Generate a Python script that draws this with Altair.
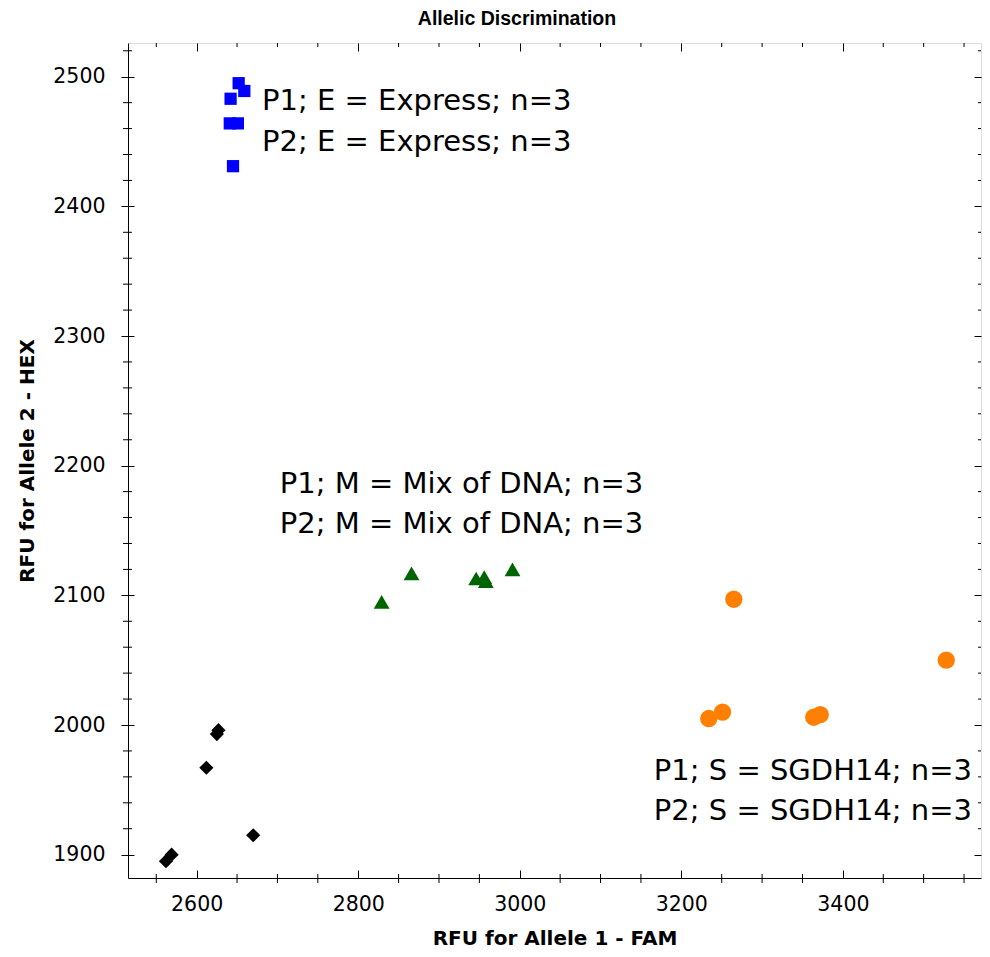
import altair as alt
import pandas as pd

# ---- data ----
express_x = [2652, 2659, 2642, 2641, 2651, 2645]
express_y = [2495, 2489, 2483, 2464, 2464, 2431]

ntc_x = [2627, 2625, 2612, 2670, 2569, 2562]
ntc_y = [1996, 1993, 1967, 1915, 1900, 1895]

mix_x = [2829, 2866, 2946, 2956, 2958, 2991]
mix_y = [2095, 2117, 2113, 2114, 2111, 2120]

sgdh_x = [3234, 3251, 3265, 3364, 3372, 3528]
sgdh_y = [2005, 2010, 2097, 2006, 2008, 2050]

groups = ["Express", "NTC", "Mix", "SGDH14"]
group_colors = ["#0000FF", "#000000", "#006400", "#FF8000"]
group_shapes = ["square", "diamond", "triangle-up", "circle"]
group_sizes = [150, 300, 280, 210]

ann_text = [
    "P1; E = Express; n=3", "P2; E = Express; n=3",
    "P1; M = Mix of DNA; n=3", "P2; M = Mix of DNA; n=3",
    "P1; S = SGDH14; n=3", "P2; S = SGDH14; n=3",
]
ann_x = [2681, 2681, 2703, 2703, 3166, 3166]
ann_y = [2474, 2443, 2179, 2148, 1957.5, 1926.5]

title_text = ["Allelic Discrimination"]

x_major = [2600, 2800, 3000, 3200, 3400]
x_minor = [2550, 2650, 2700, 2750, 2850, 2900, 2950, 3050, 3100, 3150,
           3250, 3300, 3350, 3450, 3500, 3550]
y_major = [1900, 2000, 2100, 2200, 2300, 2400, 2500]
y_minor = [v for v in range(1900, 2521, 20) if v % 100 != 0]
x_domain = [2515, 3571]
y_domain = [1882, 2526]

rows = []
for g, xs_, ys_ in [("Express", express_x, express_y), ("NTC", ntc_x, ntc_y),
                    ("Mix", mix_x, mix_y), ("SGDH14", sgdh_x, sgdh_y)]:
    for a, b in zip(xs_, ys_):
        rows.append({"group": g, "fam": a, "hex": b})
pts = pd.DataFrame(rows)
ann = pd.DataFrame({"text": ann_text, "fam": ann_x, "hex": ann_y})

W, H = 853, 835
LBL = "DejaVu Sans"

x_axis = alt.Axis(
    values=x_major, format="d", labelOverlap=False, labelFlush=False,
    labelFont=LBL, labelFontSize=20.5, labelColor="#000000", labelPadding=16,
    ticks=True, tickSize=0, tickColor="#000000",
    grid=True, gridColor="#000000", gridWidth=1, gridOpacity=1,
    gridDash=[8, H - 16, 8, 3000],
    domainColor="#000000", domainWidth=1,
    title="RFU for Allele 1 - FAM",
    titleFont=LBL, titleFontWeight="bold", titleFontSize=20, titleColor="#000000",
    titleBaseline="alphabetic", titleY=66,
)
y_axis = alt.Axis(
    values=y_major, format="d", labelOverlap=False, labelFlush=False,
    labelFont=LBL, labelFontSize=20.5, labelColor="#000000", labelPadding=16,
    ticks=True, tickSize=7, tickColor="#000000", tickWidth=1,
    grid=True, gridColor="#000000", gridWidth=1, gridOpacity=1,
    gridDash=[6, W - 13, 7, 3000],
    domainColor="#000000", domainWidth=1,
    title="RFU for Allele 2 - HEX",
    titleFont=LBL, titleFontWeight="bold", titleFontSize=20, titleColor="#000000",
    titleBaseline="alphabetic", titleX=-95, titleY=H / 2, titleAngle=-90, titleAlign="center",
)

xs = alt.Scale(domain=x_domain, nice=False, zero=False)
ys = alt.Scale(domain=y_domain, nice=False, zero=False)

points = alt.Chart(pts).mark_point(filled=True, opacity=1, strokeWidth=0).encode(
    x=alt.X("fam:Q", scale=xs, axis=x_axis),
    y=alt.Y("hex:Q", scale=ys, axis=y_axis),
    color=alt.Color("group:N", scale=alt.Scale(domain=groups, range=group_colors), legend=None),
    shape=alt.Shape("group:N", scale=alt.Scale(domain=groups, range=group_shapes), legend=None),
    size=alt.Size("group:N", scale=alt.Scale(domain=groups, range=group_sizes), legend=None),
)

xmin_df = pd.DataFrame({"fam": x_minor})
ymin_df = pd.DataFrame({"hex": y_minor})
rule_style = dict(color="#000000", strokeWidth=1)

x_minor_bottom = alt.Chart(xmin_df).mark_rule(**rule_style).encode(
    x=alt.X("fam:Q", scale=xs), y=alt.value(H - 4), y2=alt.value(H + 5))
x_minor_top = alt.Chart(xmin_df).mark_rule(**rule_style).encode(
    x=alt.X("fam:Q", scale=xs), y=alt.value(0), y2=alt.value(4))
y_minor_left = alt.Chart(ymin_df).mark_rule(**rule_style).encode(
    y=alt.Y("hex:Q", scale=ys), x=alt.value(-5), x2=alt.value(4))
y_minor_right = alt.Chart(ymin_df).mark_rule(**rule_style).encode(
    y=alt.Y("hex:Q", scale=ys), x=alt.value(W - 3), x2=alt.value(W))

labels = alt.Chart(ann).mark_text(
    align="left", baseline="alphabetic", font=LBL, fontSize=29, color="#000000"
).encode(
    x=alt.X("fam:Q", scale=xs),
    y=alt.Y("hex:Q", scale=ys),
    text="text:N",
)

title = alt.Chart(pd.DataFrame({"t": title_text})).mark_text(
    align="center", baseline="alphabetic", font="Liberation Sans", fontWeight="bold",
    fontSize=19.5, color="#000000"
).encode(x=alt.value(389), y=alt.value(-18), text="t:N")

chart = alt.layer(
    points, x_minor_bottom, x_minor_top, y_minor_left, y_minor_right, labels, title
).properties(
    width=W, height=H,
    autosize=alt.AutoSizeParams(type="none"),
    padding={"left": 120, "top": 35, "right": 1, "bottom": 71},
).configure_view(stroke="#000000", strokeWidth=1).configure(background="#ffffff")

chart.save("out.html", embed_options={"renderer": "svg", "actions": False})
